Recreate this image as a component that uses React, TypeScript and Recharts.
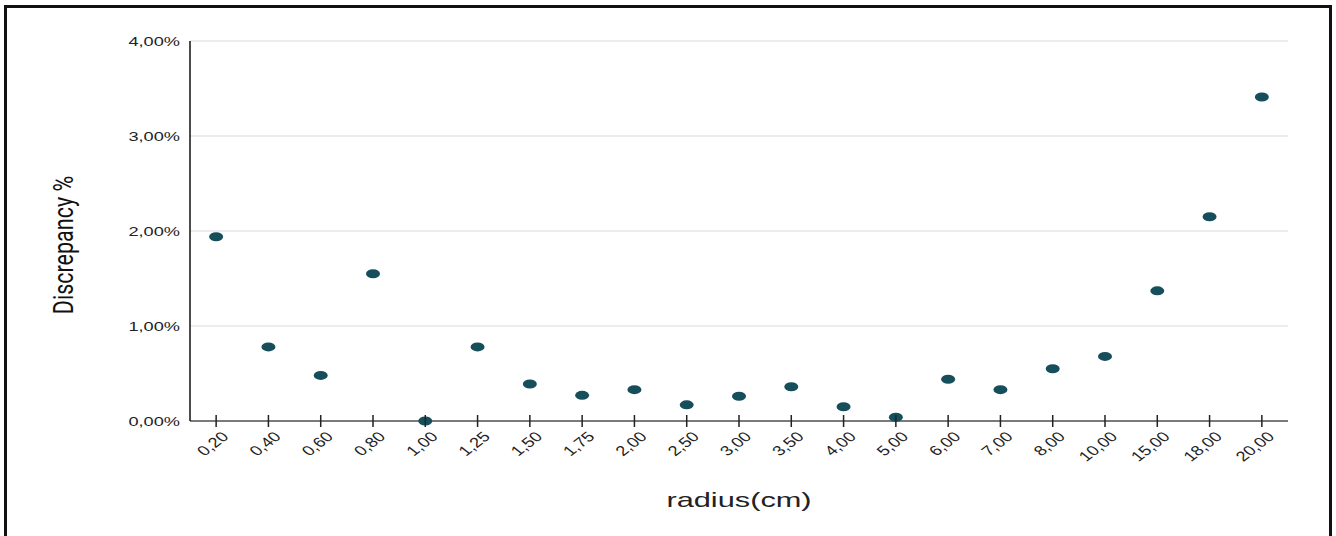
import React from 'react';
import { ScatterChart, Scatter, XAxis, YAxis, CartesianGrid, Label } from 'recharts';

// radius categories (x axis tick labels) and discrepancy in %
const radiusLabels = ['0,20', '0,40', '0,60', '0,80', '1,00', '1,25', '1,50', '1,75', '2,00', '2,50', '3,00', '3,50', '4,00', '5,00', '6,00', '7,00', '8,00', '10,00', '15,00', '18,00', '20,00'];
const discrepancy = [1.94, 0.78, 0.48, 1.55, 0.0, 0.78, 0.39, 0.27, 0.33, 0.17, 0.26, 0.36, 0.15, 0.04, 0.44, 0.33, 0.55, 0.68, 1.37, 2.15, 3.41];
const yTicks = [0, 1, 2, 3, 4];

const FONT = '"Liberation Sans", Arial, sans-serif';
const DOT = '#164e5b';

const data = radiusLabels.map((r, i) => ({ radius: r, value: discrepancy[i] }));

const fmtPct = (v: number) => `${v.toFixed(2).replace('.', ',')}%`;

const XTick = (props: any) => {
  const { x, y, payload } = props;
  return (
    <g transform={`translate(${x},${y})`}>
      <line x1={0} x2={0} y1={-6} y2={6} stroke="#222" strokeWidth={1.5} />
      <text
        transform="translate(9,13) scale(1.3,1) rotate(-45)"
        textAnchor="end"
        dy="0.35em"
        fontSize={14}
        fontFamily={FONT}
        fill="#222"
      >
        {payload.value}
      </text>
    </g>
  );
};

const YTick = (props: any) => {
  const { x, y, payload } = props;
  return (
    <g transform={`translate(${x},${y}) scale(1.4,1)`}>
      <text textAnchor="end" dy="0.35em" fontSize={13} fontFamily={FONT} fill="#222">
        {fmtPct(payload.value)}
      </text>
    </g>
  );
};

const Dot = (props: any) => <ellipse cx={props.cx} cy={props.cy} rx={7} ry={4.5} fill={DOT} />;

const App: React.FC = () => {
  return (
    <div style={{ position: 'fixed', left: 0, top: 0, width: 1336, height: 536, overflow: 'hidden', background: '#fff' }}>
      <div
        style={{
          position: 'absolute',
          left: 4,
          top: 5,
          width: 1328,
          height: 560,
          border: '3px solid #111',
          boxSizing: 'border-box',
        }}
      />
      <div style={{ position: 'absolute', left: 0, top: 0 }}>
        <ScatterChart width={1336} height={536} margin={{ top: 41, right: 48, bottom: 0, left: 0 }}>
          <CartesianGrid vertical={false} stroke="#d9d9d9" strokeWidth={1} />
          <XAxis
            type="category"
            dataKey="radius"
            allowDuplicatedCategory={false}
            height={115}
            tickLine={false}
            tickSize={0}
            tickMargin={0}
            interval={0}
            tick={<XTick />}
            axisLine={{ stroke: '#555', strokeWidth: 1.5 }}
          >
            <Label
              content={(p: any) => {
                const vb = p.viewBox;
                const cx = vb.x + vb.width / 2;
                return (
                  <g transform={`translate(${cx},${vb.y + 79}) scale(1.5,1)`}>
                    <text textAnchor="middle" dy="0.35em" fontSize={20.5} fontFamily={FONT} fill="#222">
                      radius(cm)
                    </text>
                  </g>
                );
              }}
            />
          </XAxis>
          <YAxis
            type="number"
            dataKey="value"
            domain={[0, 4]}
            ticks={yTicks}
            width={190}
            tickLine={false}
            tickSize={0}
            tickMargin={10}
            tick={<YTick />}
            axisLine={{ stroke: '#111', strokeWidth: 1.5 }}
          >
            <Label
              content={(p: any) => {
                const vb = p.viewBox;
                const cy = vb.y + vb.height / 2 + 14;
                return (
                  <g transform={`translate(${vb.x + 63},${cy}) scale(1.3,1) rotate(-90)`}>
                    <text
                      textAnchor="middle"
                      dy="0.35em"
                      fontSize={21.5}
                      fontFamily="Roboto, Arial, sans-serif"
                      fill="#111"
                    >
                      Discrepancy %
                    </text>
                  </g>
                );
              }}
            />
          </YAxis>
          <Scatter data={data} shape={<Dot />} isAnimationActive={false} />
        </ScatterChart>
      </div>
    </div>
  );
};

export default App;
